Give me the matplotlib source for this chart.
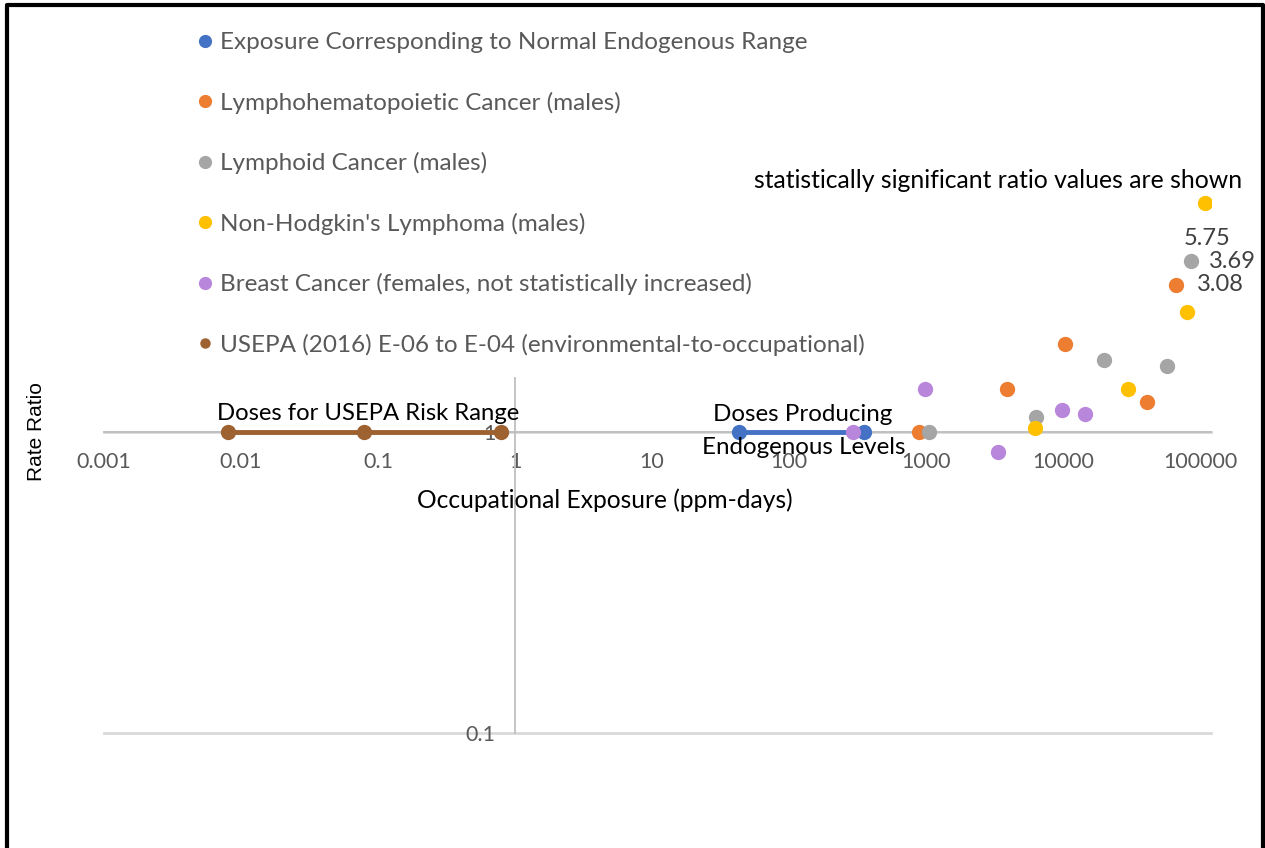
import matplotlib

matplotlib.use("Agg")
import matplotlib.pyplot as plt
import numpy as np
from matplotlib.lines import Line2D

plt.rcParams["font.family"] = ["Lato", "DejaVu Sans"]

W, H = 1265, 848

# series values (x = ppm-days, y = rate ratio)
endo_x = [43, 352]
endo_y = [1.0, 1.0]

lhp_x = [67300, 10400, 3890, 41100, 885]
lhp_y = [3.08, 1.96, 1.39, 1.26, 1.0]

lymphoid_x = [85200, 20000, 57100, 6340, 1060]
lymphoid_y = [3.69, 1.74, 1.66, 1.12, 1.0]

nhl_x = [109600, 80200, 29800, 6210]
nhl_y = [5.75, 2.50, 1.39, 1.03]

breast_x = [978, 9790, 14500, 294, 3360]
breast_y = [1.39, 1.18, 1.15, 1.0, 0.856]

usepa_x = [0.008, 0.079, 0.79]
usepa_y = [1.0, 1.0, 1.0]

x_ticks = [0.001, 0.01, 0.1, 1, 10, 100, 1000, 10000, 100000]
x_tick_labels = ["0.001", "0.01", "0.1", "1", "10", "100", "1000", "10000", "100000"]
y_ticks = [0.1, 1]
y_tick_labels = ["0.1", "1"]

names = [
    "Exposure Corresponding to Normal Endogenous Range",
    "Lymphohematopoietic Cancer (males)",
    "Lymphoid Cancer (males)",
    "Non-Hodgkin's Lymphoma (males)",
    "Breast Cancer (females, not statistically increased)",
    "USEPA (2016) E-06 to E-04 (environmental-to-occupational)",
]
colors = ["#4472C4", "#ED7D31", "#A5A5A5", "#FFC000", "#B886DB", "#9E6130"]

TXT = "#595959"
AX = "#BFBFBF"


def px(x, y):
    # pixel position (from top-left) -> figure fraction
    return x / W, 1 - y / H


fig = plt.figure(figsize=(W / 100, H / 100), dpi=100)
ax = fig.add_axes([104 / W, (H - 733) / H, (1211 - 104) / W, (733 - 131) / H])
ax.set_xscale("log")
ax.set_yscale("log")
ax.set_xlim(1e-3, 10 ** 5.08)
ax.set_ylim(0.1, 10)

MS = 10
ax.plot(endo_x, endo_y, "-o", color=colors[0], lw=3.5, ms=MS, zorder=3)
ax.plot(lhp_x, lhp_y, "o", color=colors[1], ms=MS, zorder=3)
ax.plot(lymphoid_x, lymphoid_y, "o", color=colors[2], ms=MS, zorder=3)
ax.plot(nhl_x, nhl_y, "o", color=colors[3], ms=MS, zorder=3)
ax.plot(breast_x, breast_y, "o", color=colors[4], ms=MS, zorder=3)
ax.plot(usepa_x, usepa_y, "-o", color=colors[5], lw=3.5, ms=MS, zorder=3)

for s in ("top", "right"):
    ax.spines[s].set_visible(False)
ax.spines["left"].set_position(("data", 1))
ax.spines["bottom"].set_position(("data", 1))
ax.spines["left"].set_bounds(0.1, 1.51)
for s in ("left", "bottom"):
    ax.spines[s].set_color(AX)
    ax.spines[s].set_linewidth(1.3)
    ax.spines[s].set_zorder(1)

ax.set_xticks(x_ticks)
ax.set_xticklabels(x_tick_labels)
ax.set_yticks(y_ticks)
ax.set_yticklabels(y_tick_labels)
ax.minorticks_off()
ax.tick_params(axis="x", length=0, pad=14.5, labelsize=15.5, labelcolor=TXT)
ax.tick_params(axis="y", length=0, pad=14, labelsize=15.5, labelcolor=TXT)
ax.grid(axis="y", color="#D9D9D9", lw=2, zorder=0)
ax.set_axisbelow(True)
for gl in ax.get_ygridlines():
    gl.set_clip_on(False)

# data labels
LBL = dict(textcoords="offset points", va="center", fontsize=17, color="#404040")
ax.annotate("5.75", (nhl_x[0], nhl_y[0]), xytext=(1, -25), ha="center", **LBL)
ax.annotate("3.69", (lymphoid_x[0], lymphoid_y[0]), xytext=(13.5, 0), ha="left", **LBL)
ax.annotate("3.08", (lhp_x[0], lhp_y[0]), xytext=(15, 0), ha="left", **LBL)

fig.text(*px(1242, 181), "statistically significant ratio values are shown",
         ha="right", va="center", fontsize=17.8, color="black")
fig.text(*px(368, 413), "Doses for USEPA Risk Range", ha="center", va="center",
         fontsize=17.2, color="black")
fig.text(*px(803, 415), "Doses Producing", ha="center", va="center", fontsize=17.4, color="black")
fig.text(*px(804, 447), "Endogenous Levels", ha="center", va="center", fontsize=17.4, color="black")
fig.text(*px(605, 500), "Occupational Exposure (ppm-days)", ha="center", va="center",
         fontsize=17.7, color="black")
fig.text(*px(37, 432), "Rate Ratio", rotation=90, ha="center", va="center",
         fontsize=15, color="black", family="Liberation Sans")

handles = [
    Line2D([], [], ls="none", marker="o", color=c, ms=(6.5 if i == 5 else 8.5))
    for i, c in enumerate(colors)
]
leg = ax.legend(handles, names, loc="upper left", bbox_to_anchor=px(178, 15),
                bbox_transform=fig.transFigure, borderaxespad=0, borderpad=0.7,
                handlelength=0.8, handletextpad=0.22, labelspacing=1.58, fontsize=17.5,
                frameon=True, fancybox=False, facecolor="white", edgecolor="white",
                framealpha=1, labelcolor=TXT)
leg.set_zorder(5)

# outer frame (left, top, right edges)
fig.add_artist(Line2D([7 / W, 7 / W, 1263 / W, 1263 / W], [0, 1 - 5 / H, 1 - 5 / H, 0],
                      transform=fig.transFigure, color="black", lw=3))

fig.savefig("out.png", dpi=100)
